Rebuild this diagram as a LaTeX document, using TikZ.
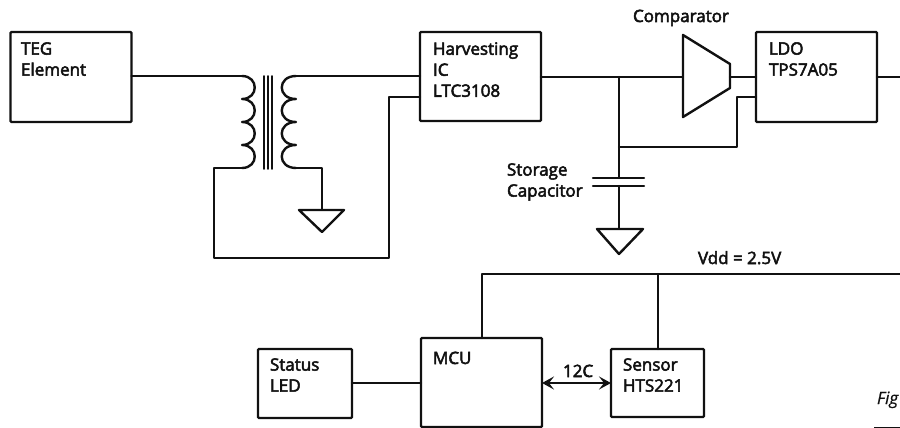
\documentclass[tikz,border=0pt]{standalone}
\usepackage{fontspec}
\setmainfont{Open Sans}[FakeBold=3,ItalicFont={Open Sans Italic},ItalicFeatures={FakeBold=0.6}]
\usetikzlibrary{arrows.meta}
\definecolor{ink}{HTML}{111111}
\tikzset{
  wire/.style={draw=ink,line width=2.4pt,line join=round,line cap=round},
  box/.style={draw=ink,line width=2.4pt,rounded corners=1pt,inner sep=0pt,outer sep=0pt,fill=white},
  lbl/.style={anchor=north west,inner sep=0pt,outer sep=0pt,align=left,text=ink,font=\fontsize{17}{21}\selectfont,execute at begin node=\strut},
  gnd/.style={draw=ink,line width=2.4pt,line join=round,fill=white},
  dbl/.style={wire,{Stealth[length=12pt,width=13pt,inset=5pt]}-{Stealth[length=12pt,width=13pt,inset=5pt]},line cap=butt},
}
\begin{document}
\begin{tikzpicture}[x=1pt,y=-1pt]
\useasboundingbox (0,0) rectangle (900,428);
\clip (0,0) rectangle (900,428);
% free points
\coordinate (coilLtop) at (242,76);
\coordinate (coilLbot) at (242,168);
\coordinate (coilRtop) at (296,76);
\coordinate (coilRbot) at (296,168);
\coordinate (cornerL) at (214,168);
\coordinate (cornerLb) at (214,258);
\coordinate (cornerRb) at (389,258);
\coordinate (cornerRt) at (389,97);
\coordinate (gndAc) at (322,168);
\coordinate (gndA) at (322,210);
\coordinate (junc1) at (619,77);
\coordinate (junc2) at (619,147);
\coordinate (capT) at (619,178);
\coordinate (capB) at (619,186);
\coordinate (gndB) at (619,229);
\coordinate (fb1) at (737,147);
\coordinate (fb2) at (737,97);
\coordinate (cmpIn) at (683,77);
\coordinate (cmpOut) at (730,77);
\coordinate (out) at (900,77);
\coordinate (vddR) at (900,274);
\coordinate (vddL) at (482,274);
\coordinate (vddS) at (658,274);
% boxes
\node[box,minimum width=121pt,minimum height=90pt] (teg) at (71,77) {};
\node[box,minimum width=121pt,minimum height=89pt] (ic) at (480.5,76.5) {};
\node[box,minimum width=121pt,minimum height=90pt] (ldo) at (816.5,77) {};
\node[box,minimum width=94pt,minimum height=69pt] (led) at (305,383.5) {};
\node[box,minimum width=121pt,minimum height=89pt] (mcu) at (481.5,382.5) {};
\node[box,minimum width=93pt,minimum height=68pt] (sens) at (657.5,383) {};
% transformer
\draw[wire] (242,76)
  .. controls (259,76) and (259,99) .. (242,99)
  .. controls (259,99) and (259,122) .. (242,122)
  .. controls (259,122) and (259,145) .. (242,145)
  .. controls (259,145) and (259,168) .. (242,168);
\draw[wire] (296,76)
  .. controls (277,76) and (277,99) .. (296,99)
  .. controls (277,99) and (277,122) .. (296,122)
  .. controls (277,122) and (277,145) .. (296,145)
  .. controls (277,145) and (277,168) .. (296,168);
\foreach \cx in {264,268,272} \draw[wire,line width=1.8pt] (\cx,76) -- (\cx,169);
% connectors
\draw[wire] (teg.east |- coilLtop) -- (coilLtop);
\draw[wire] (coilRtop) -- (ic.west |- coilRtop);
\draw[wire] (coilLbot) -- (cornerL) -- (cornerLb) -- (cornerRb) -- (cornerRt) -- (ic.west |- cornerRt);
\draw[wire] (coilRbot) -- (gndAc) -- (gndA);
\draw[gnd] (299,210) -- (344,210) -- (322,232) -- cycle;
\draw[wire] (ic.east |- junc1) -- (cmpIn);
\draw[wire] (junc1) -- (capT);
\draw[wire] (capB) -- (gndB);
\draw[wire] (593,178) -- (644,178);
\draw[wire] (593,186) -- (644,186);
\draw[gnd] (597,229) -- (643,229) -- (619,254) -- cycle;
\draw[wire] (junc2) -- (fb1) -- (fb2) -- (ldo.west |- fb2);
\draw[gnd] (683,35) -- (730,64) -- (730,88) -- (683,117) -- cycle;
\draw[wire] (cmpOut) -- (ldo.west |- cmpOut);
\draw[wire] (ldo.east |- out) -- (out);
\draw[wire] (mcu.north -| vddL) -- (vddL) -- (vddR);
\draw[wire] (vddS) -- (sens.north -| vddS);
\draw[wire] (led.east |- sens.west) -- (mcu.west |- sens.west);
\draw[dbl] (mcu.east |- sens.west) -- (sens.west);
% caption rule
\coordinate (ruleL) at (874,427);
\coordinate (ruleR) at (900,427);
\draw[draw=ink,line width=1pt] (ruleL) -- (ruleR);
% labels (baseline = y + 14.7)
\node[lbl] (tTeg) at (21,42.3) {TEG\\Element};
\node[lbl] (tIc) at (433,42.3) {Harvesting\\IC\\LTC3108};
\node[lbl] (tLdo) at (769,42.3) {LDO\\TPS7A05};
\node[lbl] (tCmp) at (633,7.3) {Comparator};
\node[lbl] (tCap) at (507,163.3) {Storage\\Capacitor};
\node[lbl] (tVdd) at (698,249.3) {Vdd = 2.5V};
\node[lbl] (tMcu) at (433,349.3) {MCU};
\node[lbl] (tSens) at (623,358.3) {Sensor\\HTS221};
\node[lbl] (t12c) at (563,362.3) {12C};
\node[lbl] (tLed) at (270,358.3) {Status\\LED};
\node[lbl,font=\fontsize{17}{21}\selectfont\itshape] (tFig) at (877,389.3) {Fig};
\end{tikzpicture}
\end{document}
